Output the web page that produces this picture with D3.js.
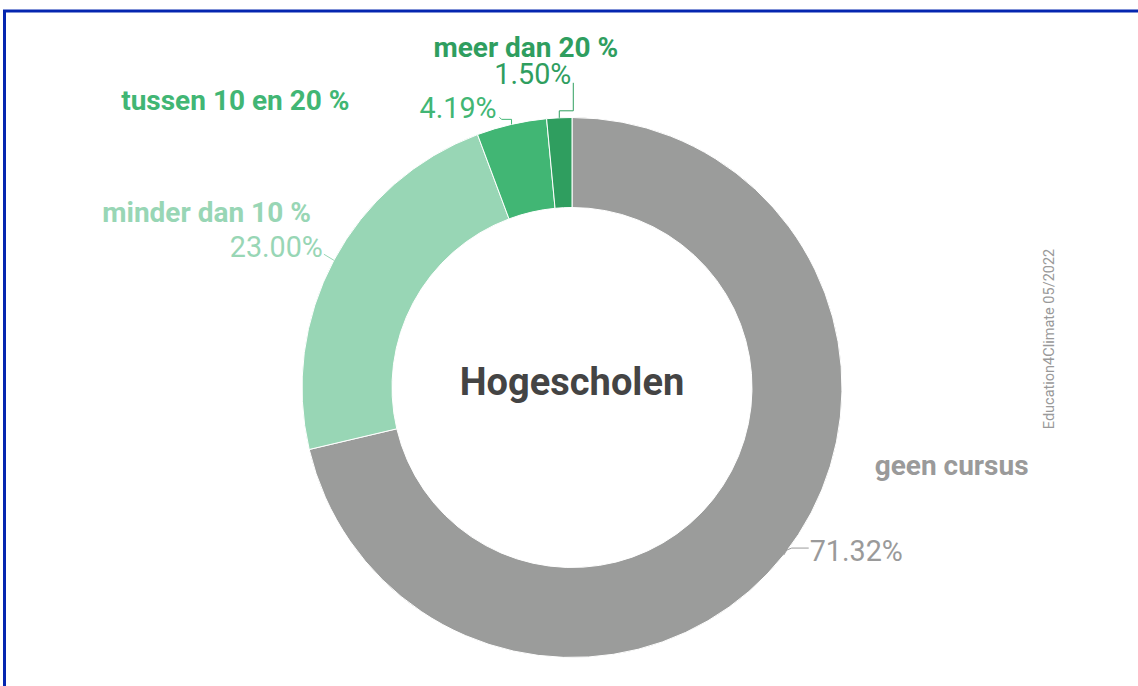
<!DOCTYPE html>
<html>
<head>
<meta charset="utf-8">
<script src="https://cdn.jsdelivr.net/npm/d3@7"></script>
<style>
  body { margin: 0; background: #fff; }
  text { font-family: Roboto, "Open Sans", sans-serif; }
</style>
</head>
<body>
<div class="chart"></div>
<script>
var svgWidth = 1138;
var svgHeight = 686;

// data
var categories = ["geen cursus", "minder dan 10 %", "tussen 10 en 20 %", "meer dan 20 %"];
var values = [71.32, 23.00, 4.19, 1.50];
var valueLabels = ["71.32%", "23.00%", "4.19%", "1.50%"];
var colors = ["#9b9c9b", "#98d6b5", "#41b674", "#2f9e5f"];
var textColors = ["#9a9a9a", "#98d6b5", "#41b674", "#2f9e5f"];

// label placement, relative to the point where the slice middle meets the outer edge
var labelLayout = [
  { cat: [91, -80, "start"], val: [26, 6, "start"], leader: [[0, 0], [3, -5], [8, -7], [25, -7]] },
  { cat: [-23, -38, "end"], val: [-11, -3, "end"], leader: [[0, 0], [-10, -6]] },
  { cat: [-162, -14, "end"], val: [-15, -6, "end"], leader: [[0, 0], [0, -5], [-10, -5], [-12, -7]] },
  { cat: [59, -61, "end"], val: [12, -34, "end"], leader: [[0, 0], [0, -7], [14, -7], [14, -35]] }
];

var cx = 572, cy = 387.5;
var outerR = 270, innerR = 180;

var svg = d3.select(".chart")
  .append("svg")
  .attr("width", svgWidth)
  .attr("height", svgHeight);

svg.append("rect")
  .attr("width", svgWidth)
  .attr("height", svgHeight)
  .attr("fill", "#fff");

// blue frame (only top and left edges are visible)
svg.append("rect")
  .attr("x", 4.5)
  .attr("y", 11)
  .attr("width", svgWidth + 20)
  .attr("height", svgHeight + 20)
  .attr("fill", "none")
  .attr("stroke", "#0526b0")
  .attr("stroke-width", 3);

var chartGroup = svg.append("g")
  .attr("transform", `translate(${cx}, ${cy})`);

var pie = d3.pie().sort(null).value(d => d);
var arcs = pie(values);

var arc = d3.arc().innerRadius(innerR).outerRadius(outerR);

chartGroup.selectAll("path.slice")
  .data(arcs)
  .enter()
  .append("path")
  .attr("class", "slice")
  .attr("d", arc)
  .attr("fill", (d, i) => colors[i])
  .attr("stroke", "#fff")
  .attr("stroke-width", 1);

// anchor point on the outer edge at slice middle
function edgePoint(d) {
  var a = (d.startAngle + d.endAngle) / 2;
  return [outerR * Math.sin(a), -outerR * Math.cos(a)];
}

arcs.forEach(function(d, i) {
  var p = edgePoint(d);
  var lay = labelLayout[i];

  chartGroup.append("polyline")
    .attr("points", lay.leader.map(o => [p[0] + o[0], p[1] + o[1]].join(",")).join(" "))
    .attr("fill", "none")
    .attr("stroke", textColors[i])
    .attr("stroke-width", 1);

  chartGroup.append("text")
    .attr("x", p[0] + lay.cat[0])
    .attr("y", p[1] + lay.cat[1])
    .attr("text-anchor", lay.cat[2])
    .attr("font-size", 28)
    .attr("font-weight", "bold")
    .attr("fill", textColors[i])
    .text(categories[i]);

  chartGroup.append("text")
    .attr("x", p[0] + lay.val[0])
    .attr("y", p[1] + lay.val[1])
    .attr("text-anchor", lay.val[2])
    .attr("font-size", 28.7)
    .attr("fill", textColors[i])
    .text(valueLabels[i]);
});

// centre title
chartGroup.append("text")
  .attr("x", 0)
  .attr("y", 7)
  .attr("text-anchor", "middle")
  .attr("font-size", 38)
  .attr("font-weight", "bold")
  .attr("fill", "#444")
  .text("Hogescholen");

// credit
svg.append("text")
  .attr("transform", "translate(1054, 339) rotate(-90)")
  .attr("text-anchor", "middle")
  .attr("font-size", 14.5)
  .attr("fill", "#999")
  .text("Education4Climate 05/2022");
</script>
</body>
</html>
